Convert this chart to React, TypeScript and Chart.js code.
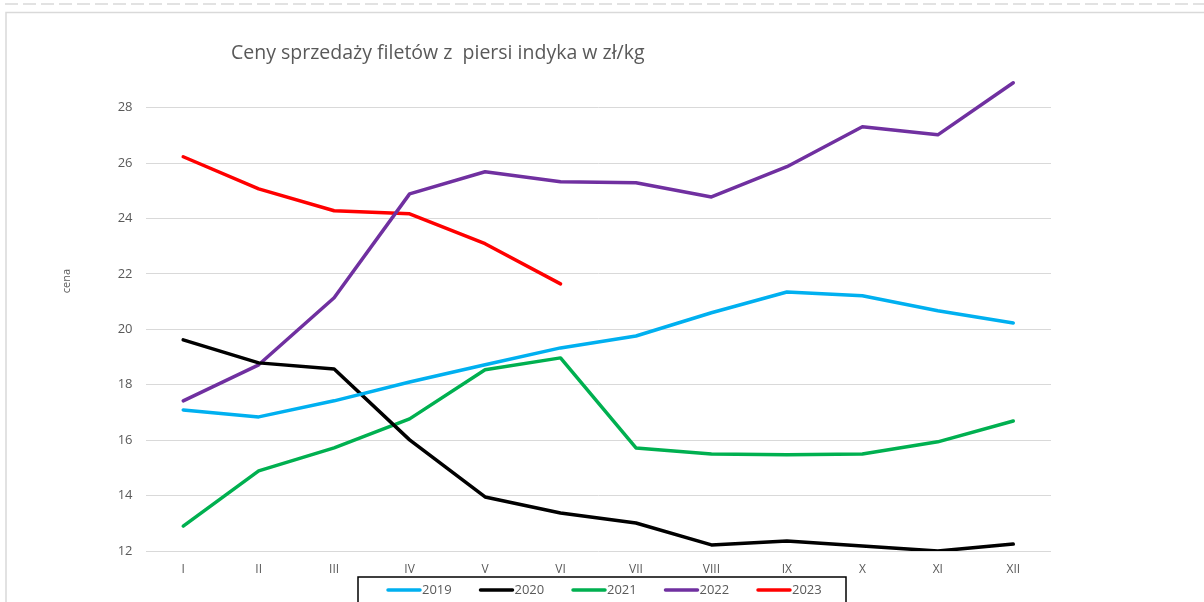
import React, { useEffect, useRef } from "react";
import { Chart, registerables } from "chart.js";

Chart.register(...registerables);

const titleText = "Ceny sprzedaży filetów z  piersi indyka w zł/kg";
const yAxisTitle = "cena";
const categories = ["I", "II", "III", "IV", "V", "VI", "VII", "VIII", "IX", "X", "XI", "XII"];
const seriesNames = ["2019", "2020", "2021", "2022", "2023"];
const values2019 = [17.09, 16.84, 17.42, 18.1, 18.72, 19.33, 19.76, 20.6, 21.35, 21.21, 20.67, 20.23];
const values2020 = [19.62, 18.79, 18.57, 16.01, 13.95, 13.37, 13.01, 12.22, 12.36, 12.18, 12.0, 12.25];
const values2021 = [12.9, 14.89, 15.72, 16.77, 18.54, 18.97, 15.72, 15.5, 15.47, 15.5, 15.94, 16.69];
const values2022 = [17.42, 18.72, 21.14, 24.89, 25.69, 25.33, 25.29, 24.78, 25.87, 27.31, 27.02, 28.9];
const values2023 = [26.23, 25.07, 24.28, 24.17, 23.09, 21.64];
const yTicks = [12, 14, 16, 18, 20, 22, 24, 26, 28];
const yMin = 12;
const yMax = 29;

const seriesColors = ["#00B0F0", "#000000", "#00B050", "#7030A0", "#FF0000"];
const FONT = "'Open Sans', 'DejaVu Sans', sans-serif";
const TEXT_GRAY = "#595959";

const decorPlugin = {
  id: "decor",
  beforeDraw(chart: any) {
    const ctx = chart.ctx;
    ctx.save();
    ctx.fillStyle = "#ffffff";
    ctx.fillRect(0, 0, chart.width, chart.height);
    // dashed line at top
    ctx.strokeStyle = "#D9D9D9";
    ctx.lineWidth = 1.5;
    ctx.setLineDash([13, 5]);
    ctx.beginPath();
    ctx.moveTo(5, 4);
    ctx.lineTo(chart.width, 4);
    ctx.stroke();
    ctx.setLineDash([]);
    // frame
    ctx.beginPath();
    ctx.moveTo(6, chart.height);
    ctx.lineTo(6, 12.5);
    ctx.lineTo(chart.width, 12.5);
    ctx.stroke();
    ctx.restore();
  },
  afterDraw(chart: any) {
    const ctx = chart.ctx;
    ctx.save();
    // title
    ctx.fillStyle = TEXT_GRAY;
    ctx.font = `19.5px ${FONT}`;
    ctx.textAlign = "left";
    ctx.textBaseline = "alphabetic";
    ctx.fillText(titleText, 231, 59);
    // y axis title
    ctx.save();
    ctx.translate(67, 281);
    ctx.rotate(-Math.PI / 2);
    ctx.font = `11px ${FONT}`;
    ctx.textAlign = "center";
    ctx.textBaseline = "middle";
    ctx.fillText(yAxisTitle, 0, 0);
    ctx.restore();

    // legend (bordered box, like the original)
    const boxW = 488;
    const boxLeft = chart.width / 2 - boxW / 2;
    const boxTop = 577;
    ctx.strokeStyle = "#000000";
    ctx.lineWidth = 1.5;
    ctx.strokeRect(boxLeft, boxTop, boxW, 60);
    const itemY = 590;
    const step = 92.5;
    ctx.font = `13px ${FONT}`;
    ctx.textAlign = "left";
    ctx.textBaseline = "middle";
    chart.data.datasets.forEach((ds: any, i: number) => {
      const x0 = boxLeft + 30 + i * step;
      ctx.strokeStyle = ds.borderColor;
      ctx.lineWidth = 3.5;
      ctx.lineCap = "round";
      ctx.beginPath();
      ctx.moveTo(x0, itemY);
      ctx.lineTo(x0 + 32, itemY);
      ctx.stroke();
      ctx.fillStyle = TEXT_GRAY;
      ctx.fillText(ds.label, x0 + 34, itemY + 0.5);
    });
    ctx.restore();
  },
};

export default function App() {
  const canvasRef = useRef<HTMLCanvasElement | null>(null);

  useEffect(() => {
    const canvas = canvasRef.current;
    if (!canvas) return;
    const allValues = [values2019, values2020, values2021, values2022, values2023];
    const chart = new Chart(canvas, {
      type: "line",
      data: {
        labels: categories,
        datasets: seriesNames.map((name, i) => ({
          label: name,
          data: allValues[i],
          borderColor: seriesColors[i],
          backgroundColor: seriesColors[i],
          borderWidth: 3.5,
          pointRadius: 0,
          tension: 0,
          borderCapStyle: "round",
          borderJoinStyle: "round",
          fill: false,
        })),
      },
      options: {
        responsive: false,
        animation: false,
        devicePixelRatio: 1,
        layout: { padding: { left: 0, right: 153, top: 80, bottom: 0 } },
        plugins: {
          title: { display: false },
          tooltip: { enabled: false },
          legend: { display: false },
        },
        scales: {
          x: {
            type: "category",
            offset: true,
            grid: { display: false, drawTicks: false },
            border: { display: false },
            ticks: {
              color: TEXT_GRAY,
              font: { family: FONT, size: 12 },
              padding: 11,
              maxRotation: 0,
              autoSkip: false,
            },
            afterFit: (scale: any) => {
              scale.height = 51;
            },
          },
          y: {
            type: "linear",
            min: yMin,
            max: yMax,
            grid: { color: "#D9D9D9", lineWidth: 1, drawTicks: false },
            border: { display: false },
            ticks: {
              color: TEXT_GRAY,
              font: { family: FONT, size: 13 },
              padding: 13,
            },
            afterBuildTicks: (scale: any) => {
              scale.ticks = yTicks.map((v) => ({ value: v }));
            },
            afterFit: (scale: any) => {
              scale.width = 145.5;
            },
          },
        },
      },
      plugins: [decorPlugin],
    } as any);
    return () => chart.destroy();
  }, []);

  return (
    <div
      style={{
        position: "fixed",
        left: 0,
        top: 0,
        width: 1204,
        height: 602,
        overflow: "hidden",
        background: "#ffffff",
      }}
    >
      <canvas ref={canvasRef} width={1204} height={602} style={{ display: "block" }} />
    </div>
  );
}
